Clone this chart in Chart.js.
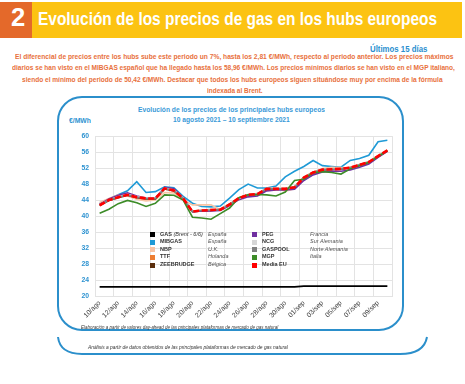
<!DOCTYPE html>
<html>
<head>
<meta charset="utf-8">
<script src="https://cdn.jsdelivr.net/npm/chart.js@4"></script>
<style>
body { margin: 0; width: 465px; height: 384px; background: #fff; position: relative; overflow: hidden; font-family: "Liberation Sans", Arial, sans-serif; }
.t { position: absolute; white-space: nowrap; line-height: 1; transform-origin: 0 50%; }
.sq { position: absolute; width: 5px; height: 5px; }
</style>
</head>
<body>
<div style="position:absolute;left:0;top:2px;width:32px;height:36px;background:#e4692a"></div>
<div style="position:absolute;left:32px;top:2px;width:430px;height:36px;background:#fcc312"></div>
<div class="t" style="left:11px;top:5px;font-size:25.6px;font-weight:bold;color:#fff">2</div>
<div class="t fit" data-w="399" style="left:38px;top:11px;font-size:17.7px;font-weight:bold;color:#fff">Evolución de los precios de gas en los hubs europeos</div>

<div class="t fit" data-w="57" style="left:370px;top:44.5px;font-size:8.5px;font-weight:bold;color:#2a8fcf">Últimos 15 días</div>
<div class="t fit" data-w="438" style="left:15px;top:52.7px;font-size:7.5px;font-weight:bold;color:#e8703c">El diferencial de precios entre los hubs sube este periodo un 7%, hasta los 2,81 €/MWh, respecto al periodo anterior. Los precios máximos</div>
<div class="t fit" data-w="443" style="left:12px;top:64.3px;font-size:7.5px;font-weight:bold;color:#e8703c">diarios se han visto en el MIBGAS español que ha llegado hasta los 58,96 €/MWh. Los precios mínimos diarios se han visto en el MGP italiano,</div>
<div class="t fit" data-w="421" style="left:22px;top:76px;font-size:7.5px;font-weight:bold;color:#e8703c">siendo el mínimo del periodo de 50,42 €/MWh. Destacar que todos los hubs europeos siguen situándose muy por encima de la fórmula</div>
<div class="t fit" data-w="56" style="left:207px;top:86.7px;font-size:7.5px;font-weight:bold;color:#e8703c">indexada al Brent.</div>

<svg style="position:absolute;left:0;top:0" width="465" height="384">
  <rect x="58" y="97" width="345" height="233" rx="24" ry="24" fill="#fff" stroke="#2b8fcb" stroke-width="2"/>
  <path d="M58 337 Q60 354 82 354 L400 354 Q424 354 427 337" fill="none" stroke="#2b8fcb" stroke-width="2"/>
</svg>

<div class="t fit" data-w="187" style="left:138px;top:105.5px;font-size:7.3px;font-weight:bold;color:#3a9ad8">Evolución de los precios de los principales hubs europeos</div>
<div class="t fit" data-w="117" style="left:173px;top:115.6px;font-size:7.3px;font-weight:bold;color:#3a9ad8">10 agosto 2021 – 10 septiembre 2021</div>
<div class="t fit" data-w="22" style="left:69px;top:117.8px;font-size:6.5px;font-weight:bold;color:#2e93d1">€/MWh</div>

<div style="position:absolute;left:58px;top:126px;width:345px;height:204px">
  <canvas id="hubs" width="345" height="204"></canvas>
</div>

<div id="legend"></div>

<div class="t fit" data-w="197" style="left:81px;top:324.5px;font-size:5.5px;font-style:italic;color:#333">Elaboración a partir de valores day-ahead de las principales plataformas de mercado de gas natural</div>
<div class="t fit" data-w="200" style="left:88px;top:345.3px;font-size:5.5px;font-style:italic;color:#333">Análisis a partir de datos obtenidos de las principales plataformas de mercado de gas natural</div>

<script>
const days = ['10/ago', '11/ago', '12/ago', '13/ago', '14/ago', '15/ago', '16/ago', '17/ago', '18/ago', '19/ago', '20/ago',
    '21/ago', '22/ago', '23/ago', '24/ago', '25/ago', '26/ago', '27/ago', '28/ago', '29/ago', '30/ago', '31/ago',
    '01/sep', '02/sep', '03/sep', '04/sep', '05/sep', '06/sep', '07/sep', '08/sep', '09/sep', '10/sep'];
const tickLabels = ['10/ago', '12/ago', '14/ago', '16/ago', '18/ago', '20/ago', '22/ago', '24/ago', '26/ago', '28/ago',
    '30/ago', '01/sep', '03/sep', '05/sep', '07/sep', '09/sep'];
const yTicks = [20, 24, 28, 32, 36, 40, 44, 48, 52, 56, 60];

const gasBrent = [22.3, 22.3, 22.3, 22.3, 22.3, 22.3, 22.3, 22.3, 22.3, 22.3, 22.3, 22.3, 22.3, 22.3, 22.3, 22.3,
    22.3, 22.3, 22.3, 22.3, 22.3, 22.3, 22.45, 22.45, 22.45, 22.45, 22.45, 22.45, 22.45, 22.45, 22.45, 22.45];
const mibgas = [43.1, 44.3, 45.3, 46.3, 48.6, 45.9, 46.1, 47.3, 47.1, 44.9, 43.2, 42.4, 42.3, 42.5, 44.5, 46.6,
    48.0, 47.0, 47.0, 47.5, 49.8, 51.2, 52.4, 53.9, 52.6, 52.4, 52.2, 53.9, 54.4, 55.2, 58.6, 58.96];
const nbp = [43.4, 44.4, 45.3, 45.0, 44.2, 43.8, 44.0, 45.9, 45.8, 44.0, 42.8, 42.8, 42.8, 41.6, 42.6, 44.2,
    45.0, 45.5, 46.6, 47.0, 46.2, 46.8, 49.2, 50.6, 51.9, 52.2, 52.1, 52.0, 52.6, 53.3, 54.8, 56.2];
const ttf = [42.8, 44.1, 44.8, 45.4, 44.8, 44.5, 44.4, 47.0, 46.5, 44.5, 41.2, 41.5, 41.6, 41.7, 43.0, 44.6,
    45.4, 45.6, 46.9, 46.9, 46.9, 47.3, 49.7, 51.0, 51.7, 51.8, 51.9, 52.2, 52.9, 53.6, 55.1, 56.5];
const zeebrugge = [42.6, 43.9, 44.6, 45.2, 44.6, 44.3, 44.3, 46.8, 46.3, 44.3, 41.1, 41.3, 41.4, 41.5, 42.8, 44.4,
    45.2, 45.4, 46.7, 46.7, 46.7, 47.1, 49.5, 50.8, 51.5, 51.6, 51.7, 52.0, 52.7, 53.4, 54.9, 56.3];
const peg = [42.9, 44.3, 45.2, 45.8, 45.0, 44.5, 44.5, 47.2, 46.8, 44.6, 41.1, 41.3, 41.3, 41.4, 42.6, 44.1,
    44.8, 45.0, 46.3, 46.5, 46.5, 46.7, 48.9, 50.3, 51.0, 51.2, 51.2, 51.5, 52.2, 53.0, 54.7, 56.2];
const ncg = [42.8, 44.0, 44.8, 45.4, 44.8, 44.5, 44.5, 47.0, 46.5, 44.5, 41.2, 41.5, 41.6, 41.7, 42.9, 44.4,
    45.3, 45.6, 46.9, 47.0, 47.0, 47.3, 49.6, 50.9, 51.7, 51.8, 51.9, 52.1, 52.8, 53.5, 55.0, 56.4];
const gaspool = [42.7, 44.0, 44.7, 45.3, 44.7, 44.4, 44.4, 46.9, 46.4, 44.4, 41.1, 41.4, 41.5, 41.6, 42.9, 44.5,
    45.3, 45.5, 46.8, 46.8, 46.8, 47.2, 49.6, 50.9, 51.6, 51.7, 51.8, 52.1, 52.8, 53.5, 55.0, 56.4];
const mgp = [40.7, 41.7, 43.1, 43.9, 43.3, 42.4, 43.2, 45.3, 45.2, 44.0, 39.7, 39.5, 39.2, 40.6, 42.0, 44.6,
    45.3, 45.4, 45.3, 45.0, 46.0, 48.9, 49.2, 50.8, 51.1, 50.9, 50.5, 51.8, 52.6, 53.4, 54.9, 56.3];
const mediaEU = [42.7, 44.0, 44.7, 45.3, 44.7, 44.4, 44.4, 46.9, 46.4, 44.4, 41.1, 41.4, 41.5, 41.6, 42.9, 44.5,
    45.3, 45.5, 46.8, 46.8, 46.8, 47.2, 49.6, 50.9, 51.6, 51.7, 51.8, 52.1, 52.8, 53.5, 55.0, 56.4];

const hubNames = ['GAS', 'MIBGAS', 'NBP', 'TTF', 'ZEEBRUDGE', 'PEG', 'NCG', 'GASPOOL', 'MGP', 'Media EU'];
const hubNotes = ['(Brent - 6/6)', '', '', '', '', '', '', '', '', ''];
const hubCountries = ['España', 'España', 'U.K.', 'Holanda', 'Bélgica', 'Francia', 'Sur Alemania', 'Norte Alemania', 'Italia', ''];
const hubColors = ['#000000', '#1f9ad6', '#f8c4a4', '#ed7d31', '#5a2d0c', '#7030a0', '#d6d6d6', '#808080', '#3d8c28', '#ff0000'];
const hubSeries = [gasBrent, mibgas, nbp, ttf, zeebrugge, peg, ncg, gaspool, mgp, mediaEU];

// fit html texts to the measured widths of the picture
document.querySelectorAll('.fit').forEach(el => {
    el.style.transform = 'scaleX(' + (el.dataset.w / el.offsetWidth) + ')';
});

// legend in two blocks of five rows
const legend = document.getElementById('legend');
hubNames.forEach((name, i) => {
    const col = i < 5 ? 0 : 1;
    const rowY = [234.5, 242, 249.7, 257.2, 265][i % 5];
    const sqX = col ? 252 : 150;
    const sq = document.createElement('div');
    sq.className = 'sq';
    sq.style.left = sqX + 'px';
    sq.style.top = (rowY - 2.5) + 'px';
    sq.style.background = hubColors[i];
    legend.appendChild(sq);
    const lab = document.createElement('div');
    lab.className = 't';
    lab.style.cssText = 'left:' + (sqX + 10) + 'px;top:' + (rowY - 2.8) + 'px;font-size:5.5px;font-weight:bold;color:#333';
    lab.innerHTML = name + (hubNotes[i] ? ' <i style="font-weight:normal">' + hubNotes[i] + '</i>' : '');
    legend.appendChild(lab);
    if (hubCountries[i]) {
        const c = document.createElement('div');
        c.className = 't';
        c.style.cssText = 'left:' + (col ? 310 : 208) + 'px;top:' + (rowY - 2.8) + 'px;font-size:5.5px;font-style:italic;color:#555';
        c.textContent = hubCountries[i];
        legend.appendChild(c);
    }
});

const gridColor = '#e3e3e3';

new Chart(document.getElementById('hubs'), {
    type: 'line',
    data: {
        labels: days,
        datasets: hubSeries.map((values, i) => ({
            label: hubNames[i],
            data: values,
            borderColor: hubColors[i],
            backgroundColor: hubColors[i],
            borderWidth: i === 9 ? 2.6 : (i === 0 ? 1.8 : 1.6),
            borderDash: i === 9 ? [6, 2.5] : [],
            pointRadius: 0,
            tension: 0,
            order: hubSeries.length - 1 - i
        }))
    },
    options: {
        responsive: false,
        animation: false,
        layout: { padding: { top: 7, right: 11, left: 0, bottom: 0 } },
        plugins: { legend: { display: false }, tooltip: { enabled: false } },
        scales: {
            x: {
                offset: true,
                grid: {
                    offset: true,
                    drawTicks: false,
                    color: c => (c.index === undefined || c.index % 2 === 0) ? gridColor : 'rgba(0,0,0,0)'
                },
                border: { color: gridColor },
                ticks: {
                    autoSkip: false,
                    maxRotation: 45,
                    minRotation: 45,
                    padding: 3,
                    color: '#3a3a3a',
                    font: { family: '"Liberation Sans", Arial, sans-serif', size: 6.8 },
                    callback: (v, i) => tickLabels.includes(days[i]) ? days[i] : ''
                },
                afterFit: s => { s.height = 34; }
            },
            y: {
                min: yTicks[0],
                max: yTicks[yTicks.length - 1],
                afterBuildTicks: s => { s.ticks = yTicks.map(v => ({ value: v })); },
                grid: { drawTicks: false, color: gridColor },
                border: { color: gridColor },
                ticks: {
                    padding: 6,
                    color: '#2e93d1',
                    font: { family: '"Liberation Sans", Arial, sans-serif', size: 6.8, weight: 'bold' }
                },
                afterFit: s => { s.width = 37; }
            }
        }
    }
});
</script>
</body>
</html>
